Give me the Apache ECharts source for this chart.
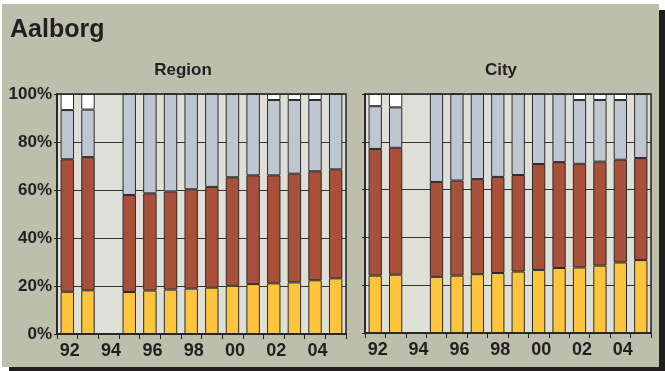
<!DOCTYPE html>
<html>
<head>
<meta charset="utf-8">
<style>
  html, body { margin: 0; padding: 0; background: #ffffff; }
  #chart { width: 665px; height: 371px; }
</style>
<script src="https://cdn.jsdelivr.net/npm/echarts@6/dist/echarts.min.js"></script>
</head>
<body>
<div id="chart"></div>
<script>
// Years 1992-2005; 1994 has no figures
const years = ['92', '93', '94', '95', '96', '97', '98', '99', '00', '01', '02', '03', '04', '05'];
const yTicks = [0, 20, 40, 60, 80, 100];

// Region: shares (%) per band, bottom to top
const regionYellow = [17.6, 18.2, null, 17.5, 18.1, 18.5, 18.9, 19.3, 20.1, 20.8, 21.1, 21.5, 22.4, 23.2];
const regionRed    = [55.2, 55.5, null, 40.4, 40.5, 40.9, 41.4, 42.0, 45.2, 45.3, 45.0, 45.3, 45.4, 45.4];
const regionBlue   = [20.5, 19.8, null, 42.1, 41.4, 40.6, 39.7, 38.7, 34.7, 33.9, 31.4, 30.7, 29.7, 31.4];
const regionWhite  = [6.7, 6.5, null, 0, 0, 0, 0, 0, 0, 0, 2.5, 2.5, 2.5, 0];

// City: shares (%) per band, bottom to top
const cityYellow = [24.0, 24.4, null, 23.5, 24.0, 24.6, 25.1, 25.7, 26.4, 27.2, 27.4, 28.2, 29.5, 30.5];
const cityRed    = [53.0, 53.1, null, 39.7, 39.8, 39.8, 40.2, 40.4, 44.3, 44.3, 43.4, 43.5, 43.0, 42.7];
const cityBlue   = [17.9, 16.9, null, 36.8, 36.2, 35.6, 34.7, 33.9, 29.3, 28.5, 26.7, 25.8, 25.0, 26.8];
const cityWhite  = [5.1, 5.6, null, 0, 0, 0, 0, 0, 0, 0, 2.5, 2.5, 2.5, 0];

const FONT = "'Liberation Sans', Arial, Helvetica, sans-serif";
const INK = '#231f20';
const bandColors = ['#fec43c', '#a9503b', '#c0c6d1', '#ffffff'];

function makeXAxis(gridIndex) {
  return {
    type: 'category', gridIndex, data: years,
    axisLine: { lineStyle: { color: INK, width: 1.5 } },
    axisTick: { show: true, interval: 0, length: 5, lineStyle: { color: INK, width: 1 } },
    axisLabel: {
      interval: 1, margin: 8, padding: [0, 0, 0, 5],
      color: INK, fontFamily: FONT, fontWeight: 'bold', fontSize: 18
    }
  };
}

function makeYAxis(gridIndex, showLabels) {
  return {
    type: 'value', gridIndex, min: yTicks[0], max: yTicks[yTicks.length - 1], interval: 20,
    axisLine: { show: true, lineStyle: { color: INK, width: 1.5 } },
    axisTick: { show: true, length: 3, lineStyle: { color: INK, width: 1 } },
    splitLine: { show: true, lineStyle: { color: '#333333', width: 1 } },
    axisLabel: {
      show: showLabels, margin: 5, formatter: '{value}%',
      color: INK, fontFamily: FONT, fontWeight: 'bold', fontSize: 17
    }
  };
}

function makeSeries(idx, bands) {
  return bands.map((data, i) => ({
    type: 'bar', stack: 'panel' + idx, xAxisIndex: idx, yAxisIndex: idx,
    data, barWidth: '65%',
    itemStyle: { color: bandColors[i], borderColor: '#2b2b2b', borderWidth: 1 },
    emphasis: { disabled: true }
  }));
}

const chart = echarts.init(document.getElementById('chart'), null, { renderer: 'canvas' });
chart.setOption({
  animation: false,
  backgroundColor: '#bcbfab',
  graphic: [
    { type: 'rect', shape: { x: 0, y: 0, width: 665, height: 4 }, style: { fill: '#ffffff' }, silent: true },
    { type: 'rect', shape: { x: 0, y: 0, width: 2, height: 371 }, style: { fill: '#ffffff' }, silent: true },
    { type: 'rect', shape: { x: 659, y: 0, width: 6, height: 10 }, style: { fill: '#ffffff' }, silent: true },
    { type: 'rect', shape: { x: 659, y: 10, width: 6, height: 361 }, style: { fill: '#1f1d1e' }, silent: true },
    { type: 'rect', shape: { x: 0, y: 367, width: 9, height: 4 }, style: { fill: '#ffffff' }, silent: true },
    { type: 'rect', shape: { x: 9, y: 367, width: 656, height: 4 }, style: { fill: '#1f1d1e' }, silent: true }
  ],
  title: [
    { text: 'Aalborg', left: 10, top: 18, padding: 0,
      textStyle: { fontFamily: FONT, fontWeight: 'bold', fontSize: 25, color: INK } },
    { text: 'Region', left: 183, top: 62, padding: 0, textAlign: 'center',
      textStyle: { fontFamily: FONT, fontWeight: 'bold', fontSize: 17, color: INK } },
    { text: 'City', left: 501, top: 62, padding: 0, textAlign: 'center',
      textStyle: { fontFamily: FONT, fontWeight: 'bold', fontSize: 17, color: INK } }
  ],
  grid: [
    { left: 57, top: 94, width: 289, height: 240, show: true,
      backgroundColor: '#dedfd6', borderColor: INK, borderWidth: 1.5 },
    { left: 365, top: 94, width: 286, height: 239, show: true,
      backgroundColor: '#dedfd6', borderColor: INK, borderWidth: 1.5 }
  ],
  xAxis: [makeXAxis(0), makeXAxis(1)],
  yAxis: [makeYAxis(0, true), makeYAxis(1, false)],
  series: [
    ...makeSeries(0, [regionYellow, regionRed, regionBlue, regionWhite]),
    ...makeSeries(1, [cityYellow, cityRed, cityBlue, cityWhite])
  ]
});
</script>
</body>
</html>
